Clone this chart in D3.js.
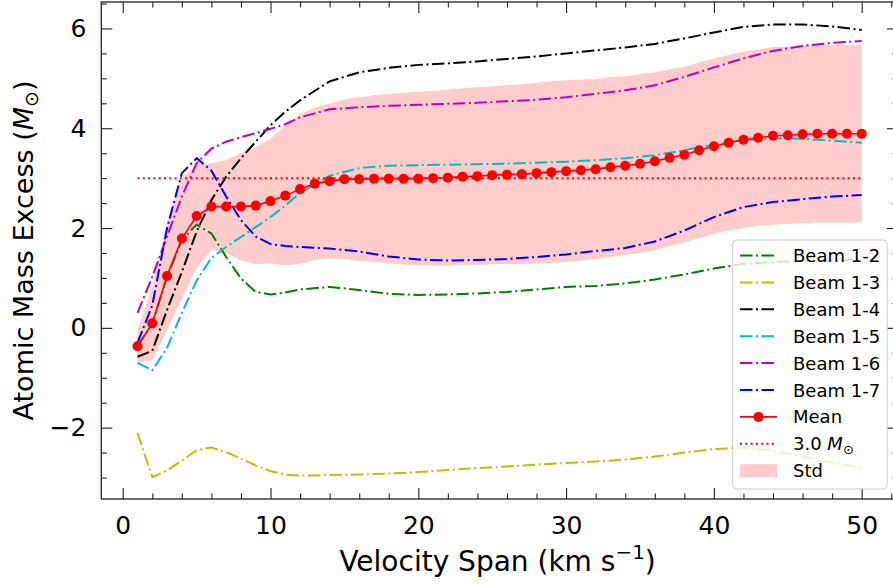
<!DOCTYPE html>
<html>
<head>
<meta charset="utf-8">
<script src="https://cdn.jsdelivr.net/npm/d3@7"></script>
<style>
  body { margin: 0; background: #fff; }
  svg { display: block; font-family: "DejaVu Sans", sans-serif; }
</style>
</head>
<body>
<script>
// x grid of the beam curves and of the mean
const xBeam = [1,2,3,4,5,6,7,8,9,10,11,12,14,16,18,20,22,24,26,28,30,32,34,36,38,40,42,44,46,48,50];
const xMean = d3.range(1, 51);

const beam12 = [-0.37,0.09,1.02,1.76,2.07,1.89,1.42,0.99,0.72,0.67,0.71,0.77,0.82,0.76,0.68,0.66,0.67,0.69,0.72,0.77,0.82,0.84,0.89,0.97,1.07,1.19,1.28,1.32,1.34,1.35,1.36];
const beam13 = [-2.11,-2.99,-2.86,-2.66,-2.45,-2.40,-2.49,-2.62,-2.76,-2.87,-2.94,-2.96,-2.95,-2.94,-2.92,-2.89,-2.85,-2.81,-2.78,-2.74,-2.71,-2.68,-2.64,-2.58,-2.50,-2.43,-2.40,-2.46,-2.58,-2.70,-2.81];
const beam14 = [-0.58,-0.46,0.36,1.12,1.93,2.56,3.03,3.40,3.73,4.06,4.33,4.56,4.94,5.12,5.21,5.27,5.30,5.34,5.39,5.44,5.50,5.56,5.62,5.69,5.80,5.92,6.03,6.08,6.08,6.04,5.97];
const beam15 = [-0.70,-0.85,-0.40,0.30,0.95,1.40,1.62,1.82,2.02,2.22,2.45,2.70,3.05,3.20,3.25,3.26,3.27,3.28,3.29,3.31,3.33,3.36,3.40,3.46,3.56,3.67,3.76,3.80,3.79,3.75,3.71];
const beam16 = [0.30,1.02,1.83,2.63,3.30,3.59,3.73,3.82,3.90,3.99,4.08,4.22,4.38,4.42,4.45,4.47,4.49,4.51,4.54,4.57,4.62,4.69,4.76,4.86,5.03,5.22,5.40,5.55,5.65,5.71,5.75];
const beam17 = [-0.30,0.45,2.00,3.10,3.40,3.15,2.63,2.16,1.83,1.68,1.64,1.62,1.59,1.53,1.43,1.37,1.35,1.36,1.38,1.42,1.47,1.54,1.60,1.73,1.95,2.22,2.42,2.52,2.58,2.63,2.66];

const meanVals = [-0.37,0.09,1.04,1.79,2.24,2.43,2.43,2.43,2.45,2.54,
  2.65,2.78,2.89,2.94,2.98,2.98,2.99,2.99,2.99,2.99,
  3.00,3.01,3.03,3.04,3.06,3.07,3.08,3.10,3.12,3.14,
  3.16,3.18,3.22,3.25,3.29,3.34,3.41,3.47,3.56,3.64,
  3.71,3.77,3.81,3.85,3.86,3.88,3.89,3.89,3.89,3.89];
const stdVals = [0.32,0.74,1.09,1.20,1.04,0.87,0.93,1.08,1.17,1.25,
  1.40,1.50,1.53,1.55,1.60,1.64,1.67,1.70,1.72,1.74,
  1.75,1.76,1.77,1.78,1.78,1.79,1.80,1.81,1.82,1.82,
  1.81,1.80,1.80,1.79,1.79,1.78,1.77,1.76,1.76,1.76,
  1.76,1.77,1.77,1.78,1.78,1.78,1.78,1.78,1.78,1.78];
const threshold = 3.0;

const beamNames = ['Beam 1-2','Beam 1-3','Beam 1-4','Beam 1-5','Beam 1-6','Beam 1-7'];
const beamColors = ['#008000','#bfbf00','#000000','#00bfbf','#bf00bf','#0000ff'];
const beams = [beam12, beam13, beam14, beam15, beam16, beam17];

const xMajor = [0,10,20,30,40,50];
const yMajor = [-2,0,2,4,6];

const width = 893, height = 585;
const L = 101.3, R = 897.9, T = 2, B = 499;

const svg = d3.select('body').append('svg')
  .attr('width', width).attr('height', height);

const x = d3.scaleLinear().domain([-1.45, 52.45]).range([L, R]);
const y = d3.scaleLinear().domain([-3.43, 6.53]).range([B, T]);

const dash = '12.5,3.5,2,3.5';

// std band
const band = xMean.map((d, i) => ({x: d, m: meanVals[i], s: stdVals[i]}));
svg.append('path')
  .datum(band)
  .attr('fill', '#ff0000').attr('fill-opacity', 0.2)
  .attr('d', d3.area().x(d => x(d.x)).y0(d => y(d.m - d.s)).y1(d => y(d.m + d.s)));

// beams
const line = d3.line().x(d => d[0]).y(d => d[1]);
beams.forEach((vals, k) => {
  svg.append('path')
    .datum(xBeam.map((d, i) => [x(d), y(vals[i])]))
    .attr('fill', 'none')
    .attr('stroke', beamColors[k])
    .attr('stroke-width', 2)
    .attr('stroke-dasharray', dash)
    .attr('d', line);
});

// mean
svg.append('path')
  .datum(xMean.map((d, i) => [x(d), y(meanVals[i])]))
  .attr('fill', 'none').attr('stroke', '#ff0000').attr('stroke-width', 1.6)
  .attr('d', line);
svg.append('g').selectAll('circle')
  .data(xMean)
  .join('circle')
  .attr('cx', d => x(d))
  .attr('cy', (d, i) => y(meanVals[i]))
  .attr('r', 5)
  .attr('fill', '#ff0000');

// 3.0 Msun line
svg.append('line')
  .attr('x1', x(1)).attr('x2', x(50))
  .attr('y1', y(threshold)).attr('y2', y(threshold))
  .attr('stroke', '#ff0000').attr('stroke-width', 2)
  .attr('stroke-dasharray', '2,3.3');

// axes (ticks inward on all four sides)
function ticks(g) {
  g.select('.domain').remove();
  g.selectAll('line').attr('stroke', '#222').attr('stroke-width', 1.1);
  g.selectAll('text').attr('font-size', 25).attr('fill', '#000').attr('font-family', 'DejaVu Sans');
}
const fmt = d => d < 0 ? '\u2212' + Math.abs(d) : String(d);
const xMinor = d3.range(0, 54, 2).filter(d => d % 10 !== 0);
const yMinor = d3.range(-3, 6.6, 0.5).filter(d => d % 2 !== 0);

svg.append('g').attr('transform', `translate(0,${B})`)
  .call(d3.axisBottom(x).tickValues(xMajor).tickSize(-11).tickPadding(17).tickFormat(fmt)).call(ticks);
svg.append('g').attr('transform', `translate(0,${B})`)
  .call(d3.axisBottom(x).tickValues(xMinor).tickSize(-5.5).tickFormat('')).call(ticks);
svg.append('g').attr('transform', `translate(0,${T})`)
  .call(d3.axisTop(x).tickValues(xMajor).tickSize(-11).tickFormat('')).call(ticks);
svg.append('g').attr('transform', `translate(0,${T})`)
  .call(d3.axisTop(x).tickValues(xMinor).tickSize(-5.5).tickFormat('')).call(ticks);

svg.append('g').attr('transform', `translate(${L},0)`)
  .call(d3.axisLeft(y).tickValues(yMajor).tickSize(-11).tickPadding(15).tickFormat(fmt)).call(ticks);
svg.append('g').attr('transform', `translate(${L},0)`)
  .call(d3.axisLeft(y).tickValues(yMinor).tickSize(-5.5).tickFormat('')).call(ticks);
svg.append('g').attr('transform', `translate(${R},0)`)
  .call(d3.axisRight(y).tickValues(yMajor).tickSize(-11).tickFormat('')).call(ticks);
svg.append('g').attr('transform', `translate(${R},0)`)
  .call(d3.axisRight(y).tickValues(yMinor).tickSize(-5.5).tickFormat('')).call(ticks);

// frame
svg.append('rect')
  .attr('x', L).attr('y', T).attr('width', R - L).attr('height', B - T)
  .attr('fill', 'none').attr('stroke', '#222').attr('stroke-width', 1.3);

// axis labels
const xl = svg.append('text')
  .attr('x', (L + R) / 2 - 2).attr('y', 571)
  .attr('text-anchor', 'middle').attr('font-size', 28);
xl.append('tspan').text('Velocity Span (km s');
xl.append('tspan').attr('font-size', 20).attr('dy', -12).text('\u22121');
xl.append('tspan').attr('dy', 12).text(')');

const yl = svg.append('text')
  .attr('transform', `translate(33,${(T + B) / 2}) rotate(-90)`)
  .attr('text-anchor', 'middle').attr('font-size', 27);
yl.append('tspan').text('Atomic Mass Excess (');
yl.append('tspan').attr('font-style', 'italic').text('M');
yl.append('tspan').attr('font-size', 19).attr('dy', 5).text('\u2299');
yl.append('tspan').attr('dy', -5).text(')');

// legend
const lg = svg.append('g');
lg.append('rect')
  .attr('x', 732.7).attr('y', 240).attr('width', 154.5).attr('height', 249)
  .attr('rx', 4).attr('fill', '#fff').attr('fill-opacity', 0.8)
  .attr('stroke', '#cccccc').attr('stroke-width', 1);
const rowY = i => 255.5 + 26.9 * i;
const hx0 = 740, hx1 = 777, tx = 793;
beamNames.forEach((name, i) => {
  lg.append('line').attr('x1', hx0).attr('x2', hx1).attr('y1', rowY(i)).attr('y2', rowY(i))
    .attr('stroke', beamColors[i]).attr('stroke-width', 2).attr('stroke-dasharray', dash);
  lg.append('text').attr('x', tx).attr('y', rowY(i) + 6.5).attr('font-size', 18).text(name);
});
lg.append('line').attr('x1', hx0).attr('x2', hx1).attr('y1', rowY(6)).attr('y2', rowY(6))
  .attr('stroke', '#ff0000').attr('stroke-width', 1.6);
lg.append('circle').attr('cx', (hx0 + hx1) / 2).attr('cy', rowY(6)).attr('r', 5).attr('fill', '#ff0000');
lg.append('text').attr('x', tx).attr('y', rowY(6) + 6.5).attr('font-size', 18).text('Mean');
lg.append('line').attr('x1', hx0).attr('x2', hx1).attr('y1', rowY(7)).attr('y2', rowY(7))
  .attr('stroke', '#ff0000').attr('stroke-width', 2).attr('stroke-dasharray', '2,3.3');
const t3 = lg.append('text').attr('x', tx).attr('y', rowY(7) + 6.5).attr('font-size', 18);
t3.append('tspan').text(threshold.toFixed(1) + ' ');
t3.append('tspan').attr('font-style', 'italic').text('M');
t3.append('tspan').attr('font-size', 13).attr('dy', 4).text('\u2299');
lg.append('rect').attr('x', hx0).attr('y', rowY(8) - 6.5).attr('width', hx1 - hx0).attr('height', 13)
  .attr('fill', '#ff0000').attr('fill-opacity', 0.2);
lg.append('text').attr('x', tx).attr('y', rowY(8) + 6.5).attr('font-size', 18).text('Std');
</script>
</body>
</html>
